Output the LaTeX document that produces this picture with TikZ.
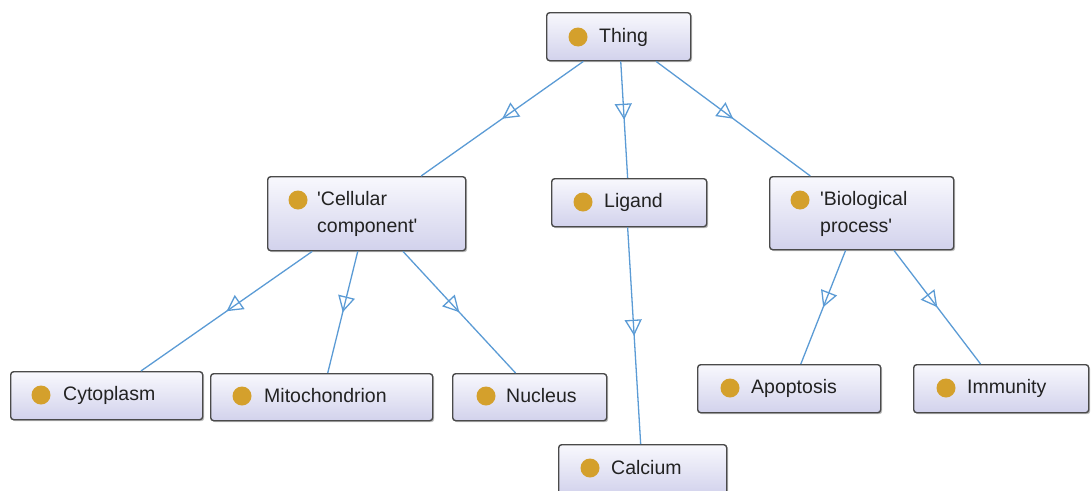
\documentclass[tikz,border=0pt]{standalone}
\usepackage{fontspec}
\setmainfont{Liberation Sans}
\usetikzlibrary{arrows.meta,decorations.markings,shadows,calc}
\definecolor{edgeblue}{HTML}{5B9BD5}
\definecolor{dotgold}{HTML}{D4A02C}
\definecolor{boxtop}{HTML}{F8F8FD}
\definecolor{boxbot}{HTML}{D2D2EC}
\definecolor{boxline}{HTML}{4A4A4A}
\definecolor{txt}{HTML}{222222}
\tikzset{
  clsbox/.style={draw=boxline, line width=1.4pt, rounded corners=3pt,
    top color=boxtop, bottom color=boxbot, anchor=north west, inner sep=0pt,
    drop shadow={shadow xshift=1.5pt, shadow yshift=-1.5pt, opacity=0.25, fill=black}},
  dot/.style={circle, fill=dotgold, minimum size=19pt, inner sep=0pt},
  lbl/.style={anchor=west, text=txt, font=\fontsize{19.5pt}{27pt}\selectfont, inner sep=0pt, align=left},
  isa/.style={draw=edgeblue, line width=1.3pt,
    postaction={decorate, decoration={markings,
      mark=at position 0.5 with {\arrow[edgeblue, line width=1.3pt]{Triangle[open, length=16pt, width=17pt]}}}}},
}
\begin{document}
\begin{tikzpicture}[x=1pt,y=-1pt]
\useasboundingbox (0,0) rectangle (1091,490);
% boxes
\node[clsbox, minimum width=144pt, minimum height=48pt] (thing) at (546,12) {};
\node[clsbox, minimum width=198pt, minimum height=74pt] (cell) at (267,176) {};
\node[clsbox, minimum width=155pt, minimum height=48pt] (ligand) at (551,178) {};
\node[clsbox, minimum width=184pt, minimum height=73pt] (bio) at (769,176) {};
\node[clsbox, minimum width=192pt, minimum height=48pt] (cyto) at (10,371) {};
\node[clsbox, minimum width=222pt, minimum height=47pt] (mito) at (210,373) {};
\node[clsbox, minimum width=154pt, minimum height=47pt] (nucl) at (452,373) {};
\node[clsbox, minimum width=168pt, minimum height=50pt] (calc) at (558,444) {};
\node[clsbox, minimum width=183pt, minimum height=48pt] (apop) at (697,364) {};
\node[clsbox, minimum width=175pt, minimum height=48pt] (immu) at (913,364) {};
% dots and labels
\node[dot] (thingd) at (578,37) {};  \node[lbl] (thingt) at (599,37) {Thing};
\node[dot] (celld) at (298,200) {};  \node[lbl] (cellt) at (317,214) {\textquotesingle Cellular\\component\textquotesingle};
\node[dot] (ligandd) at (583,202) {}; \node[lbl] (ligandt) at (604,202) {Ligand};
\node[dot] (biod) at (800,200) {};   \node[lbl] (biot) at (820,214) {\textquotesingle Biological\\process\textquotesingle};
\node[dot] (cytod) at (41,395) {};   \node[lbl] (cytot) at (63,395) {Cytoplasm};
\node[dot] (mitod) at (242,396) {};  \node[lbl] (mitot) at (264,396) {Mitochondrion};
\node[dot] (nucld) at (486,396) {};  \node[lbl] (nuclt) at (506,396) {Nucleus};
\node[dot] (calcd) at (590,468) {};  \node[lbl] (calct) at (611,468) {Calcium};
\node[dot] (apopd) at (730,388) {};  \node[lbl] (apopt) at (751,388) {Apoptosis};
\node[dot] (immud) at (946,388) {};  \node[lbl] (immut) at (967,388) {Immunity};
% edges
\draw[isa] ($(thing.south west)!0.257!(thing.south east)$) -- ($(cell.north west)!0.773!(cell.north east)$);
\draw[isa] ($(thing.south west)!0.514!(thing.south east)$) -- ($(ligand.north west)!0.49!(ligand.north east)$);
\draw[isa] ($(thing.south west)!0.757!(thing.south east)$) -- ($(bio.north west)!0.223!(bio.north east)$);
\draw[isa] ($(cell.south west)!0.227!(cell.south east)$) -- ($(cyto.north west)!0.677!(cyto.north east)$);
\draw[isa] ($(cell.south west)!0.455!(cell.south east)$) -- ($(mito.north west)!0.527!(mito.north east)$);
\draw[isa] ($(cell.south west)!0.682!(cell.south east)$) -- ($(nucl.north west)!0.409!(nucl.north east)$);
\draw[isa] ($(ligand.south west)!0.49!(ligand.south east)$) -- ($(calc.north west)!0.488!(calc.north east)$);
\draw[isa] ($(bio.south west)!0.413!(bio.south east)$) -- ($(apop.north west)!0.563!(apop.north east)$);
\draw[isa] ($(bio.south west)!0.674!(bio.south east)$) -- ($(immu.north west)!0.383!(immu.north east)$);
\end{tikzpicture}
\end{document}
